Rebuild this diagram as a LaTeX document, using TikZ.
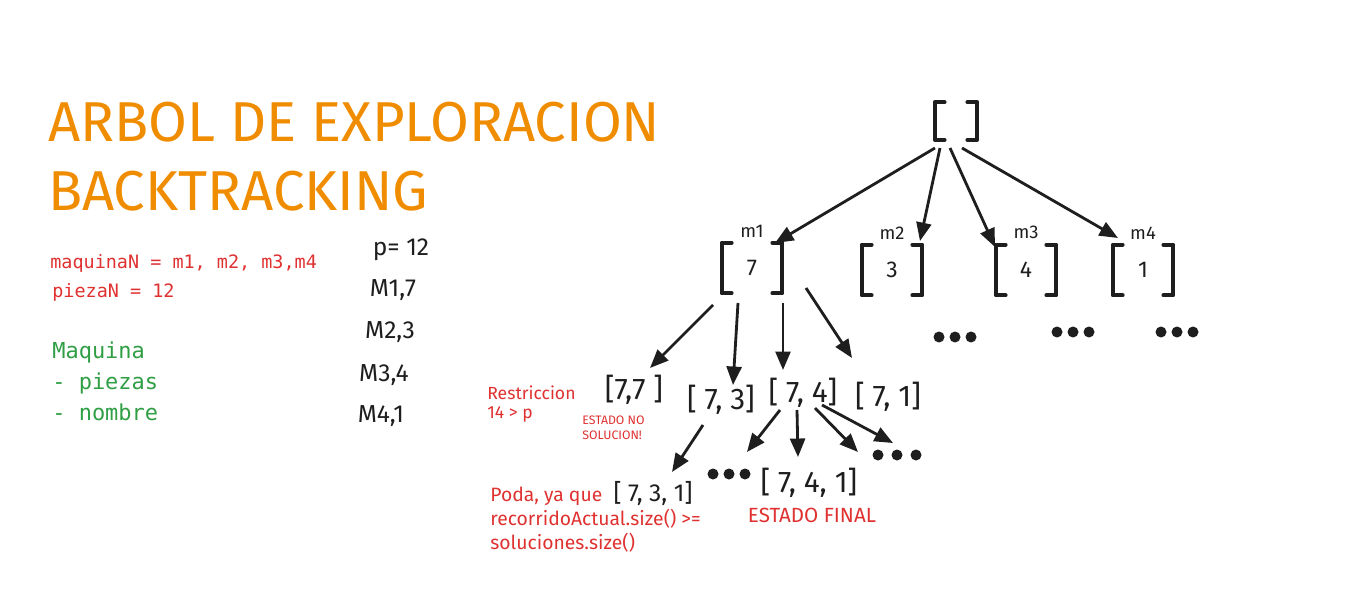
\documentclass[tikz,border=0pt]{standalone}
\usepackage{fontspec}
\setmainfont{Fira Sans}
\setmonofont{DejaVu Sans Mono}
\usetikzlibrary{arrows.meta, positioning, calc}
\definecolor{ink}{HTML}{1E1E1E}
\definecolor{naranja}{HTML}{F08C00}
\definecolor{rojo}{HTML}{E03131}
\definecolor{verde}{HTML}{2F9E44}

\begin{document}
\begin{tikzpicture}[
  x=0.02cm, y=-0.02cm,
  titulo/.style={text=naranja, font=\fontsize{32}{36}\selectfont, anchor=west, inner sep=0pt},
  codigo/.style={font=\ttfamily\fontsize{10.5}{12}\selectfont, anchor=west, inner sep=0pt},
  mano/.style={text=ink, font=\fontsize{14}{16}\selectfont, inner sep=0pt},
  caja/.style={minimum width=1.2cm, minimum height=1cm, inner sep=0pt, text=ink,
    font=\fontsize{13}{15}\selectfont},
  estado/.style={text=ink, font=\fontsize{17}{19}\selectfont, inner sep=0pt},
  nota/.style={text=rojo, align=left, anchor=west, inner sep=0pt},
  etiq/.style={text=ink, font=\fontsize{10.5}{12}\selectfont, inner sep=0pt},
  brk/.style={ink, line width=2.2pt, line cap=round, line join=round},
  arr/.style={-{Triangle[length=10.5pt, width=8.5pt]}, line width=1.6pt, ink},
]
  \useasboundingbox (0,0) rectangle (1367,595);

  % titulo y datos
  \node[titulo] (t1) at (48,122) {ARBOL DE EXPLORACION};
  \node[titulo] (t2) at (48,191) {BACKTRACKING};
  \node[codigo, text=rojo] (maq) at (50,263) {maquinaN = m1, m2, m3,m4};
  \node[codigo, text=rojo] (pie) at (52,292) {piezaN = 12};
  \node[codigo, text=verde, font=\ttfamily\fontsize{12.5}{14}\selectfont] (cl) at (52,352) {Maquina};
  \node[codigo, text=verde, font=\ttfamily\fontsize{12.5}{14}\selectfont] (at1) at (52,383) {- piezas};
  \node[codigo, text=verde, font=\ttfamily\fontsize{12.5}{14}\selectfont] (at2) at (52,412) {- nombre};
  \node[mano] (p) at (401,250) {p= 12};
  \node[mano] (m1v) at (393,290) {M1,7};
  \node[mano] (m2v) at (390,332) {M2,3};
  \node[mano] (m3v) at (384,375) {M3,4};
  \node[mano] (m4v) at (381,416) {M4,1};

  % arbol
  \node[caja, minimum width=0.84cm, minimum height=0.74cm] (root) at (956,121) {};
  \node[caja] (s1) at (752,268) {7};
  \node[caja] (s2) at (892,270) {3};
  \node[caja] (s3) at (1026,270) {4};
  \node[caja] (s4) at (1143,270) {1};
  \foreach \n in {root,s1,s2,s3,s4}{
    \draw[brk] ($(\n.north west)+(10,0)$) -- (\n.north west) -- (\n.south west) -- ($(\n.south west)+(10,0)$);
    \draw[brk] ($(\n.north east)+(-10,0)$) -- (\n.north east) -- (\n.south east) -- ($(\n.south east)+(-10,0)$);
  }
  \node[etiq, above=3pt of s1] (l1) {m1};
  \node[etiq, above=3pt of s2] (l2) {m2};
  \node[etiq, above=3pt of s3] (l3) {m3};
  \node[etiq, above=3pt of s4] (l4) {m4};

  \node[estado] (c77) at (634,390) {[7,7 ]};
  \node[estado] (c73) at (721,400) {[ 7, 3]};
  \node[estado] (c74) at (803,393) {[ 7, 4]};
  \node[estado] (c71) at (888,397) {[ 7, 1]};
  \node[estado] (c741) at (809,483) {[ 7, 4, 1]};
  \node[estado, font=\fontsize{14}{16}\selectfont] (c731) at (653,494) {[ 7, 3, 1]};

  \coordinate (d2) at (955,337);
  \coordinate (d3) at (1073,332);
  \coordinate (d4) at (1177,332);
  \coordinate (dl) at (729,474);
  \coordinate (dr) at (897,455);
  \foreach \d in {d2,d3,d4,dl}
    \foreach \i in {-1,0,1}
      \fill[ink] ($(\d)+(\i*16,0)$) circle (5.5);
  \foreach \i in {-1,0,1}
    \fill[ink] ($(dr)+(\i*19,0)$) circle (5.5);

  \draw[arr] ($(root)+(-21,27)$) -- ($(s1)+(23,-25)$);
  \draw[arr] ($(root)+(-16,27)$) -- ($(s2)+(28,-29)$);
  \draw[arr] ($(root)+(-6,27)$) -- ($(s3)+(-31,-23)$);
  \draw[arr] ($(root)+(6,27)$) -- ($(s4)+(-25,-32)$);

  \draw[arr] ($(s1)+(-39,37)$) -- ($(c77)+(16,-22)$);
  \draw[arr] ($(s1)+(-14,35)$) -- ($(c73)+(12,-15)$);
  \draw[arr] ($(s1)+(31,35)$) -- ($(c74)+(-20,-23)$);
  \draw[arr] ($(s1)+(54,20)$) -- ($(c71)+(-36,-39)$);

  \draw[arr] ($(c73)+(-18,25)$) -- ($(c731)+(19,-22)$);
  \draw[arr] ($(c74)+(-23,17)$) -- ($(dl)+(18,-22)$);
  \draw[arr] ($(c74)+(-6,17)$) -- ($(c741)+(-11,-26)$);
  \draw[arr] ($(c74)+(12,15)$) -- ($(dr)+(-39,-3)$);
  \draw[arr] ($(c74)+(19,12)$) -- ($(dr)+(-4,-12)$);

  % notas
  \node[nota, font=\fontsize{10}{10.8}\selectfont] (res) at (487,404) {Restriccion\\14 > p};
  \node[nota, font=\fontsize{7}{8.5}\selectfont] (nosol) at (582,428) {ESTADO NO\\SOLUCION!};
  \node[nota, font=\fontsize{11}{13.6}\selectfont, anchor=north west] (poda) at (490,487)
    {Poda, ya que\\recorridoActual.size() >=\\soluciones.size()};
  \node[nota, anchor=center, font=\fontsize{11.7}{13}\selectfont] (fin) at (812,515) {ESTADO FINAL};
\end{tikzpicture}
\end{document}
